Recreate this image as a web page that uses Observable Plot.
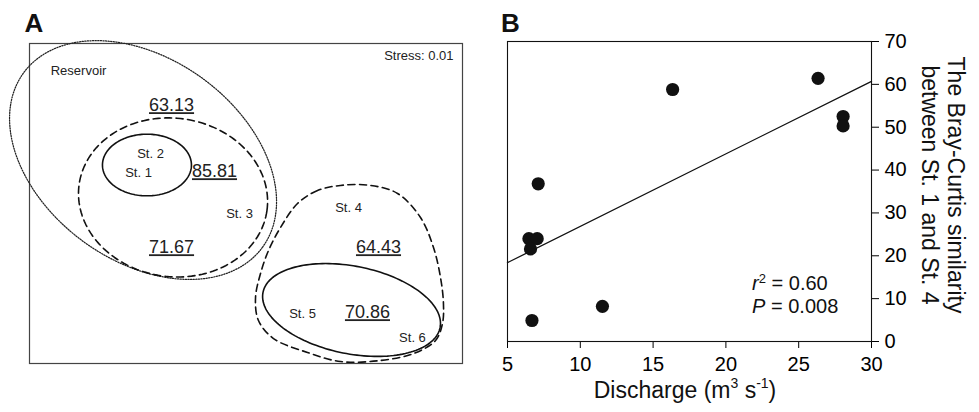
<!DOCTYPE html>
<html><head><meta charset="utf-8">
<script src="https://cdn.jsdelivr.net/npm/d3@7"></script>
<script src="https://cdn.jsdelivr.net/npm/@observablehq/plot@0.6"></script>
<style>
body{margin:0;background:#fff;}
#wrap{position:relative;width:979px;height:412px;font-family:"Liberation Sans",Arial,Helvetica,sans-serif;}
#wrap svg{position:absolute;top:0;overflow:visible;}
</style></head><body>
<div id="wrap"></div>
<script>
// ---------- Panel A: NMDS ordination (arbitrary NMDS units) ----------
const ellipseGroups = ["Reservoir", "St. 1-2", "St. 1-3", "St. 5-6"];
const ellipseCX = [-0.951, -0.915, -0.674, 0.975];
const ellipseCY = [0.402, 0.356, 0.056, -0.985];
const ellipseA = [1.367, 0.411, 0.876, 0.834];
const ellipseB = [0.934, 0.285, 0.733, 0.405];
const ellipseAngle = [-36.2, 0, -8, -11.3];
const hullX = [0.873, 0.661, 0.476, 0.319, 0.208, 0.134, 0.088, 0.115, 0.254, 0.568, 0.873, 1.242, 1.547, 1.751, 1.815, 1.824, 1.797, 1.732, 1.612, 1.400, 1.150];
const hullY = [0.167, 0.120, 0.000, -0.222, -0.435, -0.648, -0.870, -1.082, -1.249, -1.378, -1.462, -1.452, -1.388, -1.267, -1.110, -0.925, -0.685, -0.407, -0.130, 0.093, 0.167];
const stationNames = ["St. 1", "St. 2", "St. 3", "St. 4", "St. 5", "St. 6"];
const stationX = [-0.993, -0.882, -0.060, 0.947, 0.522, 1.538];
const stationY = [0.287, 0.463, -0.093, -0.037, -1.018, -1.240];
const similarityText = ["63.13", "85.81", "71.67", "64.43", "70.86"];
const similarityX = [-0.688, -0.291, -0.688, 1.224, 1.122];
const similarityY = [0.907, 0.296, -0.407, -0.407, -1.008];
const reservoirLabel = {text: "Reservoir", x: -1.547, y: 1.230};
const stressLabel = {text: "Stress: 0.01", x: 1.917, y: 1.369};

// ---------- Panel B: regression ----------
const discharge = [6.47, 7.04, 6.58, 7.11, 6.68, 11.52, 16.34, 26.33, 28.05, 28.05];
const braySimilarity = [24.0, 24.0, 21.6, 36.8, 4.9, 8.2, 58.8, 61.4, 52.5, 50.3];
const fitX = [5, 30];
const fitY = [18.4, 60.7];
const xTicks = [5, 10, 15, 20, 25, 30];
const yTicks = [0, 10, 20, 30, 40, 50, 60, 70];
const statsText = ["r² = 0.60", "P = 0.008"];
const statsX = [21.8, 21.8];
const statsY = [13.42, 8.2];

const FONT = '"Liberation Sans", Arial, Helvetica, sans-serif';

function ellipsePoints(i) {
  const th = ellipseAngle[i] * Math.PI / 180, pts = [];
  for (let k = 0; k < 160; k++) {
    const t = 2 * Math.PI * k / 160;
    const u = ellipseA[i] * Math.cos(t), v = ellipseB[i] * Math.sin(t);
    pts.push({g: ellipseGroups[i], x: ellipseCX[i] + u * Math.cos(th) - v * Math.sin(th), y: ellipseCY[i] + u * Math.sin(th) + v * Math.cos(th)});
  }
  return pts;
}
const ellStyles = [
  {strokeDasharray: "1.2,1.4", strokeWidth: 1.25, stroke: "#222"},
  {strokeWidth: 1.6},
  {strokeDasharray: "7,4.5", strokeWidth: 1.6},
  {strokeWidth: 1.6}
];
const hull = hullX.map((x, i) => ({x, y: hullY[i]}));
const stations = stationNames.map((t, i) => ({t, x: stationX[i], y: stationY[i]}));
const sims = similarityText.map((t, i) => ({t, x: similarityX[i], y: similarityY[i]}));

const plotA = Plot.plot({
  width: 490, height: 412,
  marginLeft: 29, marginRight: 28, marginTop: 43, marginBottom: 49,
  x: {domain: [-2, 2], axis: null},
  y: {domain: [-1.48, 1.48], axis: null},
  style: {fontFamily: FONT, fontSize: "13px", background: "transparent", overflow: "visible"},
  marks: [
    Plot.frame({stroke: "#444", strokeWidth: 1.2}),
    ...ellipseGroups.map((g, i) => Plot.line(ellipsePoints(i), {x: "x", y: "y", curve: "linear-closed", stroke: "#111", ...ellStyles[i]})),
    Plot.line(hull, {x: "x", y: "y", curve: "catmull-rom-closed", stroke: "#111", strokeWidth: 1.6, strokeDasharray: "7,4.5"}),
    Plot.text(stations, {x: "x", y: "y", text: "t", fill: "#222", fontSize: 13}),
    Plot.text([reservoirLabel], {x: "x", y: "y", text: "text", fill: "#222", fontSize: 13}),
    Plot.text([stressLabel], {x: "x", y: "y", text: "text", fill: "#222", fontSize: 13, textAnchor: "end"}),
    Plot.text(sims, {x: "x", y: "y", text: "t", fill: "#222", fontSize: 18, ariaDescription: "similarity"})
  ]
});

const plotB = Plot.plot({
  width: 489, height: 412,
  marginLeft: 17, marginRight: 108, marginTop: 41, marginBottom: 71,
  x: {domain: [5, 30], ticks: xTicks, tickSize: 7, tickPadding: 8, label: null, tickFormat: d => String(d)},
  y: {domain: [0, 70], ticks: yTicks, axis: "right", tickSize: 7, tickPadding: 6, label: null, tickFormat: d => String(d)},
  style: {fontFamily: FONT, fontSize: "20px", background: "transparent", overflow: "visible"},
  marks: [
    Plot.frame({stroke: "#111", strokeWidth: 1.1}),
    Plot.line(fitX.map((x, i) => ({x, y: fitY[i]})), {x: "x", y: "y", stroke: "#111", strokeWidth: 1.3}),
    Plot.dot(discharge.map((x, i) => ({x, y: braySimilarity[i]})), {x: "x", y: "y", r: 6.6, fill: "#111", stroke: "none"}),
    Plot.text(statsText.map((t, i) => ({t, x: statsX[i], y: statsY[i]})), {x: "x", y: "y", text: "t", textAnchor: "start", fontSize: 20, fill: "#111", ariaDescription: "stats"})
  ]
});

const wrap = document.getElementById("wrap");
plotA.style.left = "0px";
plotB.style.left = "490px";
wrap.appendChild(plotA);
wrap.appendChild(plotB);

// underline similarity values
d3.select(plotA).selectAll('g[aria-description="similarity"] text').style("text-decoration", "underline");

// panel letters
d3.select(plotA).append("text").attr("x", 34).attr("y", 32).attr("font-size", 26).attr("font-weight", "bold").attr("font-family", FONT).attr("fill", "#111").text("A");
d3.select(plotB).append("text").attr("x", 20.5).attr("y", 32).attr("font-size", 26).attr("font-weight", "bold").attr("font-family", FONT).attr("fill", "#111").text("B");

// stats with italic symbol and superscript
d3.select(plotB).selectAll('g[aria-description="stats"] text').each(function() {
  const el = d3.select(this);
  const s = el.text();
  el.text("");
  el.append("tspan").style("font-style", "italic").text(s[0]);
  if (s[1] === "²") {
    el.append("tspan").attr("font-size", 13).attr("dy", "-0.55em").text("2");
    el.append("tspan").attr("dy", "0.36em").text(s.slice(2));
  } else {
    el.append("tspan").text(s.slice(1));
  }
});

// axis titles
const xt = d3.select(plotB).append("text").attr("x", 195).attr("y", 398).attr("text-anchor", "middle")
  .attr("font-size", 23).attr("font-family", FONT).attr("fill", "#111");
xt.append("tspan").text("Discharge (m");
xt.append("tspan").attr("font-size", 14).attr("dy", -10).text("3");
xt.append("tspan").attr("dy", 10).text(" s");
xt.append("tspan").attr("font-size", 14).attr("dy", -10).text("-1");
xt.append("tspan").attr("dy", 10).text(")");

const yt = d3.select(plotB).append("text").attr("transform", "translate(458,185) rotate(90)").attr("text-anchor", "middle")
  .attr("font-size", 23).attr("font-family", FONT).attr("fill", "#111");
yt.append("tspan").attr("x", 0).attr("y", 0).text("The Bray-Curtis similarity");
yt.append("tspan").attr("x", 0).attr("y", 26).text("between St. 1 and St. 4");
</script>
</body></html>
